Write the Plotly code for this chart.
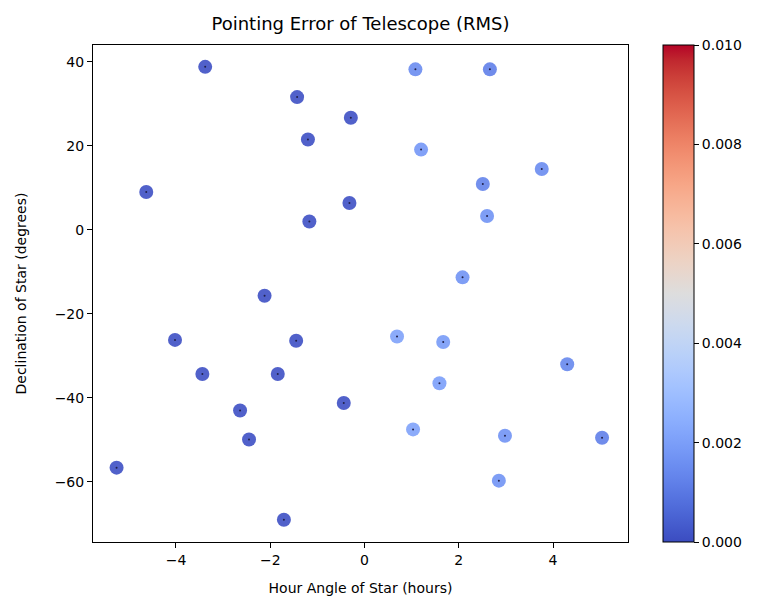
import plotly.graph_objects as go

hour_angle = [-3.38, -1.43, -0.29, -1.20, -4.63, -0.32, -1.17, -2.12, -4.02, -1.45,
              -3.44, -1.84, -0.44, -2.64, -2.45, -5.26, -1.71,
              1.08, 2.66, 1.20, 3.76, 2.51, 2.60, 2.08, 0.69, 1.67, 4.30, 1.59,
              1.03, 2.98, 5.04, 2.85]
declination = [38.8, 31.6, 26.7, 21.5, 9.0, 6.4, 2.0, -15.7, -26.2, -26.4,
               -34.3, -34.3, -41.2, -43.0, -49.9, -56.6, -69.0,
               38.2, 38.2, 19.1, 14.5, 10.9, 3.3, -11.3, -25.4, -26.7, -32.0, -36.5,
               -47.5, -49.0, -49.5, -59.7]
rms_error = [0.0001, 0.0001, 0.0001, 0.0001, 0.0001, 0.0001, 0.0001, 0.0001, 0.0001, 0.0001,
             0.0001, 0.0001, 0.0001, 0.0001, 0.0001, 0.0001, 0.0001,
             0.0015, 0.0012, 0.0018, 0.0015, 0.0013, 0.0017, 0.0017, 0.0021, 0.0019, 0.0014, 0.0020,
             0.0021, 0.0017, 0.0012, 0.0017]

cb_ticks = [0.000, 0.002, 0.004, 0.006, 0.008, 0.010]
x_ticks = [-4, -2, 0, 2, 4]
y_ticks = [-60, -40, -20, 0, 20, 40]

coolwarm_rgb = [(59,76,192),(68,90,204),(77,104,215),(87,117,225),(98,130,234),(108,142,241),
    (119,154,247),(130,165,251),(141,176,254),(152,185,255),(163,194,255),(174,201,253),
    (184,208,249),(194,213,244),(204,217,238),(213,219,230),(221,221,221),(229,216,209),
    (236,211,197),(241,204,185),(245,196,173),(247,187,160),(247,177,148),(247,166,135),
    (244,154,123),(241,141,111),(236,127,99),(229,112,88),(222,96,77),(213,80,66),
    (203,62,56),(192,40,47),(180,4,38)]
n = len(coolwarm_rgb) - 1
coolwarm = [[i / n, "rgb(%d,%d,%d)" % c] for i, c in enumerate(coolwarm_rgb)]

font = "DejaVu Sans"
fig = go.Figure()
fig.add_trace(go.Scatter(
    x=hour_angle, y=declination, mode="markers",
    marker=dict(size=14, color=rms_error, colorscale=coolwarm, cmin=0, cmax=0.01,
                opacity=0.9, line=dict(width=0),
                colorbar=dict(thickness=31, len=1, lenmode="fraction", y=0.5, yanchor="middle",
                              x=1.065, xanchor="left", xpad=0, ypad=0,
                              tickvals=cb_ticks, ticktext=["%.3f" % t for t in cb_ticks],
                              ticks="outside", ticklen=5, tickcolor="black",
                              outlinewidth=1, outlinecolor="black",
                              tickfont=dict(family=font, size=14, color="black"))),
    showlegend=False, hoverinfo="skip"))
fig.add_trace(go.Scatter(
    x=hour_angle, y=declination, mode="markers",
    marker=dict(size=2, symbol="circle", color="#20204a", line=dict(width=0)),
    showlegend=False, hoverinfo="skip"))

axis_common = dict(showline=True, linecolor="black", linewidth=1, mirror=True, automargin=False,
                   ticks="outside", ticklen=5, tickcolor="black", showgrid=False, zeroline=False,
                   tickfont=dict(family=font, size=14, color="black"))
fig.update_layout(
    width=757, height=603,
    margin=dict(l=93, r=129, t=45, b=61, autoexpand=False),
    paper_bgcolor="white", plot_bgcolor="white",
    title=dict(text="Pointing Error of Telescope (RMS)", x=(93 + 267.5) / 757, xanchor="center",
               y=1 - 24 / 603, yanchor="middle",
               font=dict(family=font, size=18, color="black")),
    xaxis=dict(range=[-5.76, 5.59], tickvals=x_ticks,
               ticktext=["\u2212" + str(-t) if t < 0 else str(t) for t in x_ticks],
               title=dict(text="Hour Angle of Star (hours)", font=dict(family=font, size=14, color="black"),
                          standoff=16),
               **axis_common),
    yaxis=dict(range=[-74.3, 44.0], tickvals=y_ticks,
               ticktext=["\u2212" + str(-t) if t < 0 else str(t) for t in y_ticks],
               title=dict(text="Declination of Star (degrees)", font=dict(family=font, size=14, color="black"),
                          standoff=24),
               **axis_common),
)
fig.write_html("out.html")
